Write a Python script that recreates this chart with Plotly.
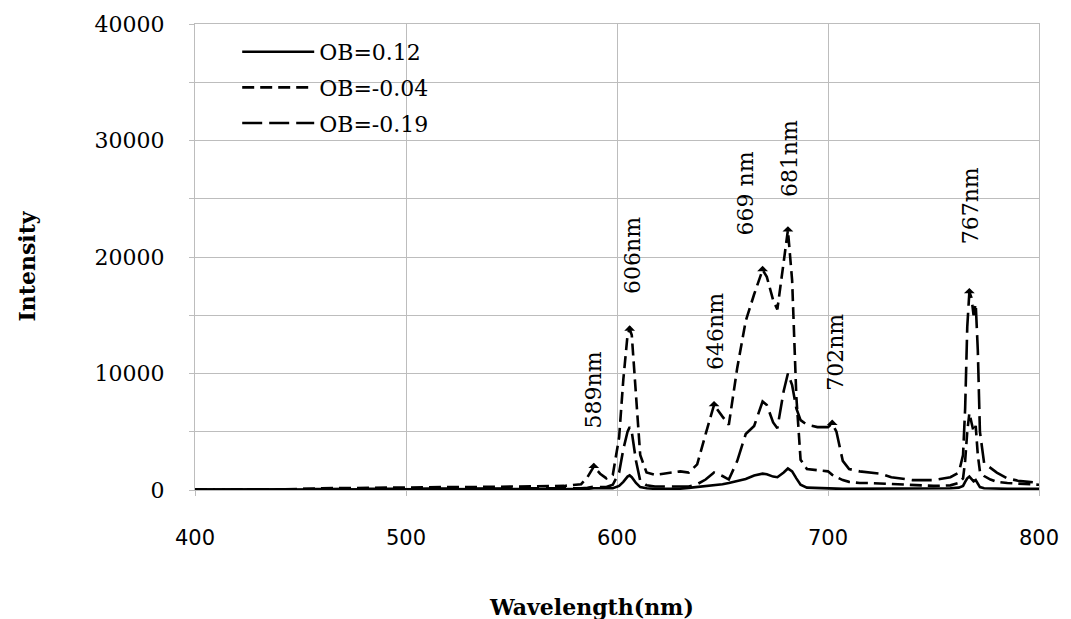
import plotly.graph_objects as go

# ---------------- data ----------------
wavelength = [400, 420, 440, 460, 480, 500, 520, 540, 560, 575,
              583, 586, 589, 592, 595, 598, 601, 603, 605, 606,
              607, 609, 611, 614, 618, 622, 626, 630, 634, 638,
              642, 646, 650, 653, 657, 661, 665, 669, 671, 674,
              676, 679, 681, 683, 685, 687, 690, 695, 700, 702,
              704, 707, 710, 715, 720, 725, 730, 740, 750, 758,
              762, 764, 765, 766, 767, 768, 769, 770, 771, 772,
              774, 777, 780, 785, 790, 795, 800]

ob_012 = [40, 40, 40, 50, 50, 50, 50, 50, 60, 70,
          80, 100, 150, 150, 120, 150, 350, 700, 1150, 1250,
          1100, 600, 250, 150, 100, 100, 100, 120, 180, 250,
          350, 450, 500, 600, 750, 950, 1250, 1400, 1350, 1150,
          1100, 1500, 1850, 1600, 1000, 450, 200, 150, 150, 130,
          120, 100, 100, 100, 100, 100, 100, 100, 120, 150,
          200, 350, 700, 1000, 1150, 900, 750, 850, 500, 250,
          150, 120, 100, 100, 100, 100, 100]

ob_m004 = [30, 40, 50, 150, 200, 220, 250, 270, 300, 350,
           500, 1100, 2000, 1400, 1000, 1300, 4500, 9500, 13300, 13800,
           13300, 8000, 3000, 1500, 1300, 1400, 1500, 1600, 1500, 2200,
           4800, 7300, 6300, 5600, 10500, 14500, 16800, 18900, 18300, 16300,
           15500, 19500, 22300, 18000, 8000, 2600, 1800, 1700, 1600, 1300,
           1100, 850, 700, 600, 600, 550, 500, 400, 350, 400,
           600, 1000, 2500, 5000, 6600, 5800, 5000, 5500, 3000, 1600,
           1200, 900, 700, 600, 550, 500, 450]

ob_m019 = [30, 30, 40, 80, 100, 100, 100, 120, 130, 150,
           150, 200, 300, 250, 250, 450, 1500, 3500, 5000, 5400,
           5000, 2500, 800, 400, 300, 300, 300, 300, 300, 500,
           900, 1500, 1200, 900, 2500, 4800, 5500, 7600, 7300, 5800,
           5300, 8500, 10000, 9000, 7000, 6000, 5600, 5400, 5400, 5700,
           5000, 2500, 1800, 1600, 1500, 1400, 1100, 850, 850, 1100,
           1500, 3000, 7000, 14000, 17000, 16500, 15000, 16000, 12000, 5000,
           2300, 1900, 1500, 1000, 800, 700, 600]

series_names = ["OB=0.12", "OB=-0.04", "OB=-0.19"]
series_values = [ob_012, ob_m004, ob_m019]

peak_labels = ["589nm", "606nm", "646nm", "669 nm", "681nm", "702nm", "767nm"]
peak_wavelengths = [589, 606, 646, 669, 681, 702, 767]
peak_series_index = [1, 1, 1, 1, 1, 2, 2]

x_ticks = [400, 500, 600, 700, 800]
y_ticks = [0, 10000, 20000, 30000, 40000]

# ---------------- style ----------------
SERIF = "DejaVu Serif"
SANS = "DejaVu Sans"
GRID = "#bdbdbd"
line_styles = [dict(dash="solid", width=2.6),
               dict(dash="12px,6px", width=2.6),
               dict(dash="20px,7px", width=2.6)]
label_dx = [0, 3, 2, -17, 1, 3, 2]
label_dy = [77, 74, 73, 76, 72, 71, 86]

fig = go.Figure()
for name, vals, st in zip(series_names, series_values, line_styles):
    fig.add_trace(go.Scatter(x=wavelength, y=vals, mode="lines", name=name,
                             legendgroup=name,
                             line=dict(color="black", **st)))

for lbl, wl, si, dx, dy in zip(peak_labels, peak_wavelengths, peak_series_index,
                               label_dx, label_dy):
    yv = series_values[si][wavelength.index(wl)]
    fig.add_annotation(x=wl, y=yv, text=" ", showarrow=True, ax=0, ay=-14,
                       arrowside="start", arrowhead=2, arrowsize=1.1,
                       arrowwidth=1.8, arrowcolor="black", standoff=0,
                       startstandoff=0)
    fig.add_annotation(x=wl, y=yv, text=lbl, showarrow=False, textangle=-90,
                       xshift=dx, yshift=dy, xanchor="center", yanchor="middle",
                       font=dict(family=SERIF, size=22, color="black"))

# axis titles
fig.add_annotation(xref="paper", yref="paper", x=0.4696, y=-0.2505,
                   text="<b>Wavelength(nm)</b>", showarrow=False,
                   xanchor="center", yanchor="middle",
                   font=dict(family=SERIF, size=22, color="black"))
fig.add_annotation(xref="paper", yref="paper", x=-0.199, y=0.4797,
                   text="<b>Intensity</b>", showarrow=False, textangle=-90,
                   xanchor="center", yanchor="middle",
                   font=dict(family=SERIF, size=22, color="black"))

fig.update_layout(
    width=1071, height=619,
    margin=dict(l=195, r=22, t=23, b=129),
    paper_bgcolor="white", plot_bgcolor="white",
    showlegend=True,
    legend=dict(x=0.05, y=0.985, xanchor="left", yanchor="top",
                bgcolor="rgba(0,0,0,0)",
                font=dict(family=SERIF, size=22, color="black"),
                itemwidth=72, tracegroupgap=4),
    xaxis=dict(range=[400, 800], tickvals=x_ticks, showgrid=True,
               gridcolor=GRID, gridwidth=1, zeroline=False,
               showline=True, linecolor=GRID, linewidth=1, mirror=True,
               ticks="outside", ticklen=5, tickcolor=GRID,
               ticklabelstandoff=24,
               tickfont=dict(family=SANS, size=21, color="black")),
    yaxis=dict(range=[0, 40000], tickvals=y_ticks, tickformat="d",
               showgrid=True, gridcolor=GRID, gridwidth=1, zeroline=False,
               showline=True, linecolor=GRID, linewidth=1, mirror=True,
               ticks="outside", ticklen=5, tickcolor=GRID,
               ticklabelstandoff=20,
               minor=dict(dtick=5000, showgrid=True, gridcolor=GRID,
                          ticks="outside", ticklen=5, tickcolor=GRID),
               tickfont=dict(family=SERIF, size=22, color="black")),
)

fig.write_html("out.html")
